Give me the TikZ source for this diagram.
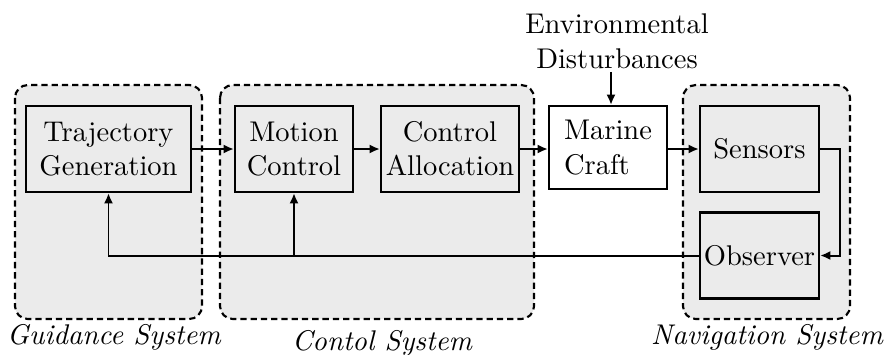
\documentclass[tikz,border=0pt]{standalone}
\usetikzlibrary{arrows.meta,positioning,calc}
\definecolor{groupgray}{RGB}{235,235,235}
\tikzset{
  blk/.style={draw, line width=0.8pt, inner sep=1pt, align=center, font=\normalsize},
  grp/.style={draw, line width=0.75pt, fill=groupgray, rounded corners=4.5pt,
              dash pattern=on 2.2pt off 1.4pt},
  sig/.style={line width=0.7pt, -{Latex[length=3.6pt,width=3.2pt]}},
  grplabel/.style={font=\itshape}
}
\begin{document}
\begin{tikzpicture}[x=0.3509pt, y=-0.3509pt]
  \useasboundingbox (0,0) rectangle (886,354);

  % subsystem frames
  \draw[grp] (15,85) rectangle (202,319);
  \draw[grp] (220,85) rectangle (534,319);
  \draw[grp] (683,85) rectangle (850,319);

  % blocks
  \node[blk, minimum width={165*0.3509pt}, minimum height={86*0.3509pt}] (traj) at (108.5,149) {Trajectory\\Generation};
  \node[blk, minimum width={118*0.3509pt}, minimum height={86*0.3509pt}] (motion) at (294,149) {Motion\\Control};
  \node[blk, minimum width={138*0.3509pt}, minimum height={86*0.3509pt}] (alloc) at (450,149) {Control\\Allocation};
  \node[blk, fill=white, align=left, minimum width={118*0.3509pt}, minimum height={83*0.3509pt}] (craft) at (608,147.5) {Marine\\Craft};
  \node[blk, minimum width={119*0.3509pt}, minimum height={86*0.3509pt}] (sensors) at (759.5,149) {Sensors};
  \node[blk, inner sep=0pt, minimum width={119*0.3509pt}, minimum height={86*0.3509pt}] (observer) at (759.5,255.5) {Observer};

  % disturbance input
  \node[align=center, inner sep=0pt, anchor=north] (env) at (617,13.5) {Environmental\\Disturbances};

  % subsystem labels
  \node[grplabel] (glab) at (114,337) {Guidance System};
  \node[grplabel] (clab) at (382,343) {Contol System};
  \node[grplabel] (nlab) at (767,337) {Navigation System};

  % forward path
  \draw[sig] (traj.east) -- (motion.west);
  \draw[sig] (motion.east) -- (alloc.west);
  \draw[sig] (alloc.east) -- (alloc.east -| craft.west);
  \draw[sig] (craft.east |- sensors.west) -- (sensors.west);
  \draw[sig] ($(env.south -| craft.north)+(3,3)$) -- ($(craft.north)+(3,0)$);

  % sensors to observer
  \coordinate (sbend) at (840,149);
  \draw[sig] (sensors.east) -- (sbend) |- (observer.east);

  % feedback from observer
  \coordinate (split) at (motion.south |- observer.west);
  \draw[sig] (observer.west) -- (traj.south |- observer.west) -- (traj.south);
  \draw[sig] (split) -- (motion.south);
\end{tikzpicture}
\end{document}
